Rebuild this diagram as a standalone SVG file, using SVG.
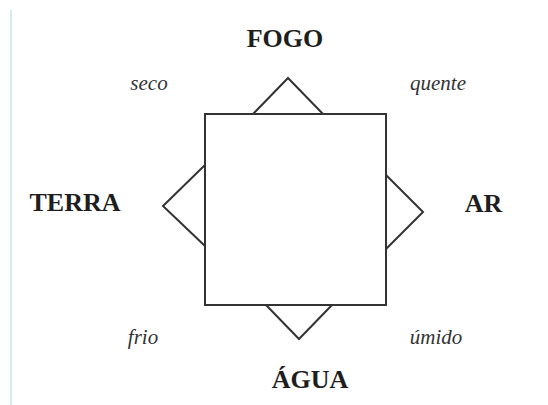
<svg xmlns="http://www.w3.org/2000/svg" width="548" height="405" viewBox="0 0 548 405">
<style>
.ln{fill:none;stroke:#333;stroke-width:2;stroke-linejoin:miter}
.el{font-family:"Liberation Serif",serif;font-weight:bold;font-size:26px;fill:#1e1e1e;text-anchor:middle}
.q{font-family:"Liberation Serif",serif;font-style:italic;font-size:21px;fill:#333;text-anchor:middle}
</style>
<rect width="548" height="405" fill="#fff"/>
<line x1="11" y1="10" x2="11" y2="405" stroke="#cde3e3" stroke-width="1.5"/>
<g id="connectors">
<polyline class="ln" points="253,114 288,78 323,114"/>
<polyline class="ln" points="205,165 163,206 205,246"/>
<polyline class="ln" points="386,175 423,212 386,249"/>
<polyline class="ln" points="266,305 299,339 332,305"/>
</g>
<g id="square"><rect class="ln" x="205" y="114" width="181" height="191"/></g>
<g id="fogo"><text class="el" x="285" y="47">FOGO</text></g>
<g id="terra"><text class="el" x="75" y="211">TERRA</text></g>
<g id="ar"><text class="el" x="483.5" y="212">AR</text></g>
<g id="agua"><text class="el" x="310" y="388">ÁGUA</text></g>
<g id="seco"><text class="q" x="149" y="90">seco</text></g>
<g id="quente"><text class="q" x="438" y="90">quente</text></g>
<g id="frio"><text class="q" x="143" y="344">frio</text></g>
<g id="umido"><text class="q" x="436" y="344">úmido</text></g>
</svg>
